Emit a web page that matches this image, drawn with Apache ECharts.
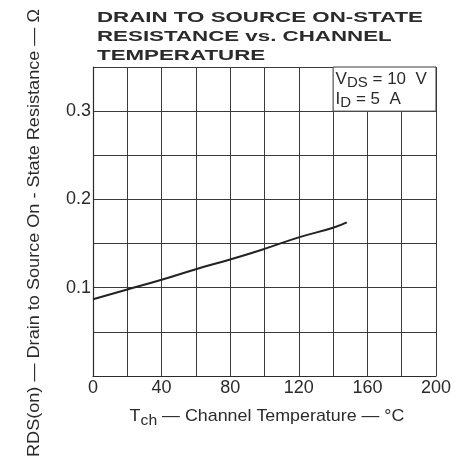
<!DOCTYPE html>
<html>
<head>
<meta charset="utf-8">
<script src="https://cdn.jsdelivr.net/npm/echarts@6/dist/echarts.min.js"></script>
<style>
  html, body { margin: 0; padding: 0; background: #fff; }
  #chart { width: 471px; height: 460px; }
</style>
</head>
<body>
<div id="chart"></div>
<script>
// channel temperature (°C) and RDS(on) (Ω)
const temps = [0, 20, 40, 60, 80, 100, 120, 140, 148];
const rdsOn = [0.087, 0.098, 0.109, 0.121, 0.132, 0.144, 0.157, 0.168, 0.174];
const xLabels = [0, 40, 80, 120, 160, 200];
const yLabels = [0.1, 0.2, 0.3];

const ink = '#2b2b2b';
const font = 'Liberation Sans';

const titleLines = ['DRAIN TO SOURCE ON-STATE', 'RESISTANCE vs. CHANNEL', 'TEMPERATURE'];
const yName = 'RDS(on) \u2014 Drain to Source On - State Resistance \u2014 \u03A9';
const xName = 'Tch \u2014 Channel Temperature \u2014 \u00B0C';

// the scanned lettering is wider than our fonts, so stretch to the measured width
const ctx = document.createElement('canvas').getContext('2d');
function widthOf(text, f) {
  ctx.font = f;
  return ctx.measureText(text).width;
}
const titleFont = 'bold 15px "' + font + '"';
const titleScale = 326 / widthOf(titleLines[0], titleFont);
const nameFont = '17px "' + font + '"';
const yScale = 448 / widthOf(yName, nameFont);
const xScale = 275 / widthOf(xName, nameFont);

const chart = echarts.init(document.getElementById('chart'));
chart.setOption({
  animation: false,
  backgroundColor: '#fff',
  grid: { left: 93, right: 35, top: 67, bottom: 84, show: false },
  graphic: [
    {
      type: 'text', x: 97, y: 8, scaleX: titleScale,
      style: {
        text: titleLines.join('\n'),
        font: titleFont, lineHeight: 19, fill: ink,
        align: 'left', verticalAlign: 'top'
      }
    },
    {
      type: 'text', x: 34, y: 233, rotation: Math.PI / 2, scaleX: yScale,
      style: {
        text: yName,
        font: nameFont, fill: ink, align: 'center', verticalAlign: 'middle'
      }
    },
    {
      type: 'text', x: 267, y: 416, scaleX: xScale,
      style: {
        text: 'T{s|ch} \u2014 Channel Temperature \u2014 \u00B0C',
        font: nameFont, fill: ink, align: 'center', verticalAlign: 'middle',
        rich: { s: { fontSize: 15, fontFamily: font, padding: [9, 0, 0, 0], fill: ink } }
      }
    }
  ],
  xAxis: {
    type: 'value', min: 0, max: 200, interval: 20,
    axisLine: { show: true, onZero: false, lineStyle: { color: ink, width: 1.2 } },
    axisTick: { show: false },
    axisLabel: {
      margin: 3, fontSize: 18, fontFamily: font, color: ink,
      formatter: v => xLabels.includes(Math.round(v)) ? String(Math.round(v)) : ''
    },
    splitLine: { show: true, lineStyle: { color: '#3a3a3a', width: 1 } }
  },
  yAxis: {
    type: 'value', min: 0, max: 0.35, interval: 0.05,
    axisLine: { show: true, onZero: false, lineStyle: { color: ink, width: 1.2 } },
    axisTick: { show: false },
    axisLabel: {
      margin: 2, fontSize: 18, fontFamily: font, color: ink,
      formatter: v => {
        const r = Math.round(v * 100) / 100;
        return yLabels.includes(r) ? r.toFixed(1) : '';
      }
    },
    splitLine: { show: true, lineStyle: { color: '#3a3a3a', width: 1 } }
  },
  series: [
    {
      type: 'line',
      data: temps.map((t, i) => [t, rdsOn[i]]),
      smooth: true,
      symbol: 'none',
      lineStyle: { color: '#222', width: 2 },
      markArea: {
        silent: true,
        itemStyle: { color: '#fff', borderColor: '#3a3a3a', borderWidth: 1 },
        label: {
          show: true, position: 'insideTopLeft', distance: 3,
          formatter: 'V{s|DS} = 10  V\nI{s|D} = 5  A',
          fontSize: 17, fontFamily: font, color: ink, lineHeight: 20,
          rich: { s: { fontSize: 15, fontFamily: font, color: ink, padding: [7, 0, 0, 0] } }
        },
        data: [[{ coord: [140, 0.3] }, { coord: [200, 0.35] }]]
      }
    }
  ]
});
</script>
</body>
</html>
